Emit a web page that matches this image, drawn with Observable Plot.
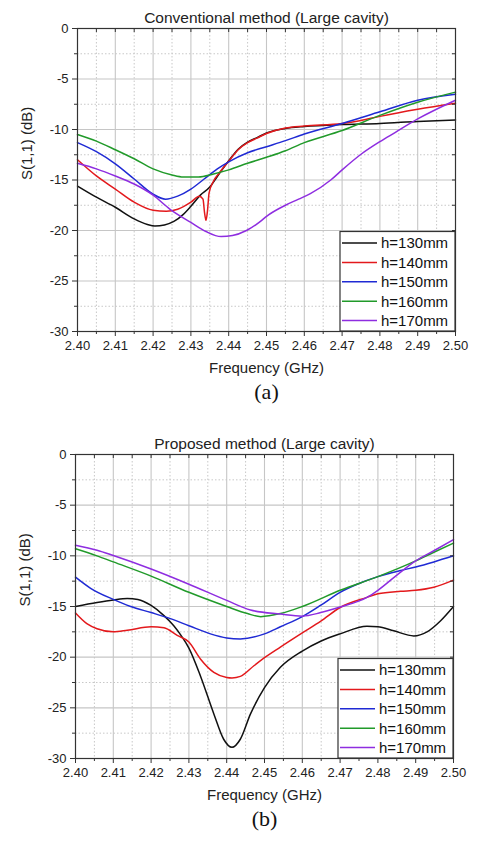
<!DOCTYPE html>
<html><head><meta charset="utf-8">
<script src="https://cdn.jsdelivr.net/npm/d3@7"></script>
<script src="https://cdn.jsdelivr.net/npm/@observablehq/plot@0.6"></script>
<style>body{margin:0;background:#fff} svg{display:block}</style>
</head><body><div id="chart"></div>
<script>
const seriesNames = ["h=130mm", "h=140mm", "h=150mm", "h=160mm", "h=170mm"];
const seriesColors = ["#111111", "#e3191c", "#1f2ad4", "#219a2a", "#8e2de0"];
const xTicks = [2.40, 2.41, 2.42, 2.43, 2.44, 2.45, 2.46, 2.47, 2.48, 2.49, 2.50];
const yTicks = [0, -5, -10, -15, -20, -25, -30];
const titleA = "Conventional method (Large cavity)";
const titleB = "Proposed method (Large cavity)";
const captionA = "(a)";
const captionB = "(b)";
const xLabel = "Frequency (GHz)";
const yLabel = "S(1,1) (dB)";

// Panel (a): Conventional method — [frequency GHz, S11 dB]
const a130 = [[2.400,-15.6],[2.405,-16.7],[2.410,-17.7],[2.415,-18.85],[2.4185,-19.4],[2.4205,-19.55],[2.423,-19.45],[2.4255,-19.1],[2.428,-18.4],[2.430,-17.6],[2.4325,-16.5],[2.435,-15.7],[2.4369,-14.7],[2.440,-13.1],[2.4425,-11.95],[2.445,-11.25],[2.4475,-10.8],[2.450,-10.35],[2.455,-9.9],[2.460,-9.7],[2.470,-9.5],[2.480,-9.4],[2.490,-9.2],[2.500,-9.05]];
const a140 = [[2.400,-13.0],[2.405,-14.6],[2.410,-15.9],[2.415,-17.2],[2.420,-18.0],[2.4235,-18.1],[2.4265,-17.9],[2.430,-17.2],[2.4322,-16.6],[2.4332,-16.9],[2.4336,-18.2],[2.4340,-19.0],[2.4344,-18.0],[2.4348,-16.3],[2.436,-15.1],[2.4375,-14.3],[2.440,-13.15],[2.4425,-12.0],[2.445,-11.3],[2.4475,-10.85],[2.450,-10.4],[2.455,-9.85],[2.460,-9.65],[2.470,-9.4],[2.475,-9.1],[2.480,-8.7],[2.490,-8.0],[2.500,-7.4]];
const a150 = [[2.400,-11.3],[2.405,-12.2],[2.410,-13.4],[2.415,-14.9],[2.420,-16.4],[2.4233,-16.9],[2.4265,-16.6],[2.430,-15.9],[2.4335,-14.9],[2.437,-13.9],[2.440,-13.2],[2.445,-12.3],[2.450,-11.7],[2.455,-11.1],[2.460,-10.45],[2.470,-9.4],[2.480,-8.25],[2.490,-7.1],[2.500,-6.5]];
const a160 = [[2.400,-10.5],[2.405,-11.15],[2.410,-12.0],[2.415,-12.9],[2.420,-13.9],[2.425,-14.5],[2.428,-14.7],[2.432,-14.7],[2.436,-14.4],[2.440,-14.0],[2.445,-13.35],[2.450,-12.75],[2.455,-12.1],[2.460,-11.3],[2.470,-10.1],[2.480,-8.6],[2.490,-7.3],[2.500,-6.3]];
const a170 = [[2.400,-13.35],[2.405,-13.9],[2.410,-14.6],[2.415,-15.4],[2.420,-16.5],[2.4245,-17.9],[2.430,-19.2],[2.434,-20.1],[2.438,-20.6],[2.441,-20.5],[2.4447,-20.0],[2.4484,-19.1],[2.450,-18.6],[2.455,-17.5],[2.4585,-16.9],[2.4616,-16.35],[2.467,-15.0],[2.470,-14.0],[2.475,-12.45],[2.480,-11.2],[2.484,-10.3],[2.490,-8.95],[2.500,-7.1]];

// Panel (b): Proposed method — [frequency GHz, S11 dB]
const b130 = [[2.400,-15.0],[2.4057,-14.6],[2.410,-14.35],[2.4137,-14.2],[2.4165,-14.3],[2.420,-14.9],[2.4234,-15.9],[2.426,-16.9],[2.428,-17.9],[2.430,-19.1],[2.4331,-21.9],[2.4366,-25.6],[2.4392,-28.1],[2.4414,-28.9],[2.4436,-28.1],[2.4463,-25.6],[2.450,-23.0],[2.4542,-21.0],[2.460,-19.4],[2.465,-18.4],[2.470,-17.7],[2.4771,-16.95],[2.480,-17.0],[2.4842,-17.4],[2.4895,-17.9],[2.493,-17.5],[2.4966,-16.4],[2.500,-15.0]];
const b140 = [[2.400,-15.65],[2.403,-16.7],[2.4057,-17.2],[2.410,-17.5],[2.4137,-17.35],[2.420,-17.0],[2.4234,-17.1],[2.4269,-17.85],[2.430,-18.5],[2.4331,-20.2],[2.4366,-21.5],[2.440,-22.0],[2.4414,-22.05],[2.4436,-21.9],[2.4472,-20.85],[2.450,-20.05],[2.4542,-19.0],[2.460,-17.6],[2.4649,-16.45],[2.470,-15.1],[2.4771,-14.1],[2.480,-13.75],[2.486,-13.5],[2.490,-13.4],[2.4948,-13.1],[2.500,-12.4]];
const b150 = [[2.400,-12.1],[2.404,-13.2],[2.410,-14.3],[2.4146,-15.0],[2.420,-15.6],[2.4251,-16.2],[2.430,-16.9],[2.4357,-17.7],[2.440,-18.1],[2.4436,-18.2],[2.450,-17.7],[2.4542,-17.0],[2.460,-16.0],[2.4648,-14.9],[2.470,-13.6],[2.4745,-12.8],[2.480,-12.05],[2.486,-11.45],[2.490,-11.1],[2.4948,-10.6],[2.500,-10.0]];
const b160 = [[2.400,-9.3],[2.4057,-10.0],[2.410,-10.6],[2.420,-12.0],[2.430,-13.6],[2.440,-15.0],[2.4455,-15.7],[2.449,-16.0],[2.4542,-15.7],[2.460,-15.0],[2.470,-13.4],[2.480,-12.05],[2.490,-10.5],[2.4948,-9.65],[2.500,-8.75]];
const b170 = [[2.400,-8.95],[2.4057,-9.45],[2.410,-9.97],[2.420,-11.3],[2.430,-12.8],[2.440,-14.4],[2.4463,-15.35],[2.4542,-15.75],[2.460,-15.95],[2.4649,-15.6],[2.470,-15.05],[2.4771,-14.1],[2.480,-13.4],[2.486,-11.6],[2.490,-10.5],[2.4948,-9.5],[2.500,-8.4]];

function toRows(lists) {
  return lists.flatMap((pts, i) => pts.map(([f, v]) => ({f, v, s: seriesNames[i]})));
}

function panel({rows, title, caption, width, height, marginTop, marginBottom, marginLeft, marginRight}) {
  const iw = width - marginLeft - marginRight;
  const ih = height - marginTop - marginBottom;
  const minorX = d3.range(10).map(i => 2.405 + i * 0.01);
  const minorY = d3.range(6).map(i => -2.5 - 5 * i);
  const chart = Plot.plot({
    width, height, marginTop, marginBottom, marginLeft, marginRight,
    style: {fontFamily: "'Liberation Sans', Arial, sans-serif", fontSize: "13px", color: "#222", background: "#fff"},
    x: {domain: [2.40, 2.50]},
    y: {domain: [-30, 0]},
    color: {domain: seriesNames, range: seriesColors},
    marks: [
      Plot.ruleX(minorX, {x: d => d, stroke: "#c8c8c8", strokeDasharray: "1.5,2"}),
      Plot.ruleY(minorY, {y: d => d, stroke: "#c8c8c8", strokeDasharray: "1.5,2"}),
      Plot.ruleX(xTicks.slice(1, -1), {x: d => d, stroke: "#c6c6c6", strokeWidth: 1.1}),
      Plot.ruleY(yTicks.slice(1, -1), {y: d => d, stroke: "#c6c6c6", strokeWidth: 1.1}),
      Plot.line(rows, {x: "f", y: "v", z: "s", stroke: "s", curve: "monotone-x", strokeWidth: 1.5}),
      Plot.frame({stroke: "#333", strokeWidth: 1.2}),
      Plot.axisX(xTicks, {anchor: "bottom", tickSize: 5, tickPadding: 4, tickFormat: d => d.toFixed(2), label: null, stroke: "#333"}),
      Plot.axisX(minorX, {anchor: "bottom", tickSize: 3, tickFormat: () => "", label: null, stroke: "#333"}),
      Plot.tickX(xTicks.concat(minorX), {x: d => d, insetBottom: ih - 4, stroke: "#333"}),
      Plot.axisY(yTicks, {anchor: "left", tickSize: 5, tickPadding: 4, tickFormat: d => String(d), label: null, stroke: "#333"}),
      Plot.axisY(minorY, {anchor: "left", tickSize: 3, tickFormat: () => "", label: null, stroke: "#333"}),
      Plot.tickY(yTicks.concat(minorY), {y: d => d, insetLeft: iw - 3, stroke: "#333"}),
      Plot.text([title], {text: d => d, frameAnchor: "top", dy: -17, fontSize: 15.5, fill: "#222"}),
      Plot.text([xLabel], {text: d => d, frameAnchor: "bottom", dy: 41, fontSize: 15, fill: "#222"}),
      Plot.text([yLabel], {text: d => d, frameAnchor: "left", dx: -50, rotate: -90, fontSize: 15, fill: "#222"}),
      Plot.text([caption], {text: d => d, frameAnchor: "bottom", dy: 67, fontSize: 22, fill: "#111", fontFamily: "'Liberation Serif', 'DejaVu Serif', serif"})
    ]
  });
  // in-plot legend (bottom-right corner of the frame)
  const color = chart.scale("color");
  const right = width - marginRight, bottom = height - marginBottom;
  const lw = 115, lh = 99.5;
  const g = d3.select(chart).append("g").attr("text-anchor", "start");
  g.append("rect").attr("x", right - lw).attr("y", bottom - lh).attr("width", lw).attr("height", lh)
    .attr("fill", "#fff").attr("stroke", "#333").attr("stroke-width", 1.2);
  seriesNames.forEach((name, i) => {
    const y = bottom - lh + 11.5 + i * 19.4;
    g.append("line").attr("x1", right - lw + 2).attr("x2", right - lw + 37).attr("y1", y).attr("y2", y)
      .attr("stroke", color.apply(name)).attr("stroke-width", 1.5);
    g.append("text").attr("x", right - lw + 41).attr("y", y).attr("dy", "0.36em")
      .attr("text-anchor", "start").attr("font-size", 15).attr("fill", "#111").text(name);
  });
  return chart;
}

const root = document.getElementById("chart");
root.append(panel({rows: toRows([a130, a140, a150, a160, a170]), title: titleA, caption: captionA,
  width: 478, height: 416, marginTop: 28, marginBottom: 85, marginLeft: 77, marginRight: 23}));
root.append(panel({rows: toRows([b130, b140, b150, b160, b170]), title: titleB, caption: captionB,
  width: 478, height: 429, marginTop: 38, marginBottom: 87, marginLeft: 75, marginRight: 25}));
</script>
</body></html>
